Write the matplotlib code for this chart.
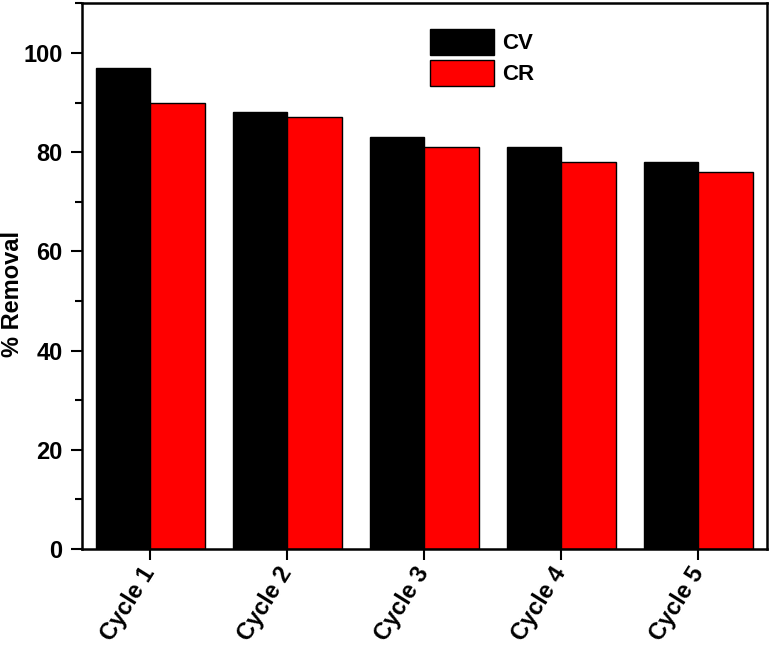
import numpy as np
import matplotlib.pyplot as plt
from matplotlib.ticker import MultipleLocator

plt.rcParams['font.family'] = ['Liberation Sans', 'DejaVu Sans']
plt.rcParams['font.weight'] = 'bold'

#data
cycles = ['Cycle 1', 'Cycle 2', 'Cycle 3', 'Cycle 4', 'Cycle 5']
cv = [97, 88, 83, 81, 78]
cr = [90, 87, 81, 78, 76]

fig = plt.figure(figsize=(7.72, 6.56), dpi=100)
ax = fig.add_axes([0.106, 0.163, 0.8875, 0.832])

index = np.arange(len(cycles))
bar_width = 0.4
ax.bar(index - bar_width/2, cv, bar_width, color='black', edgecolor='black',
       linewidth=1, label='CV')
ax.bar(index + bar_width/2, cr, bar_width, color='#ff0000', edgecolor='black',
       linewidth=1, label='CR')

ax.set_xlim(-0.5, 4.5)
ax.set_ylim(0, 110)
ax.yaxis.set_major_locator(MultipleLocator(20))
ax.yaxis.set_minor_locator(MultipleLocator(10))
ax.set_xticks(index)
ax.set_xticklabels(cycles, rotation=58, ha='right', va='center',
                   rotation_mode='anchor', fontsize=17, fontweight='bold')
for t in ax.get_yticklabels():
    t.set_fontsize(17)
    t.set_fontweight('bold')
ax.tick_params(axis='both', which='major', direction='out', length=8, width=1.5)
ax.tick_params(axis='y', which='minor', direction='out', length=5, width=1.5)
ax.tick_params(axis='x', which='major', pad=6)
ax.tick_params(axis='y', which='major', pad=6)
for s in ax.spines.values():
    s.set_linewidth(1.8)

ax.set_ylabel('% Removal', fontsize=17, fontweight='bold')
ax.yaxis.set_label_coords(-0.085, 0.467)

ax.legend(loc='upper left', bbox_to_anchor=(0.508, 0.953), frameon=False,
          fontsize=16, handlelength=2.9, handleheight=1.4, labelspacing=0.25,
          handletextpad=0.35, borderpad=0, borderaxespad=0)

fig.savefig('out.png', dpi=100)
